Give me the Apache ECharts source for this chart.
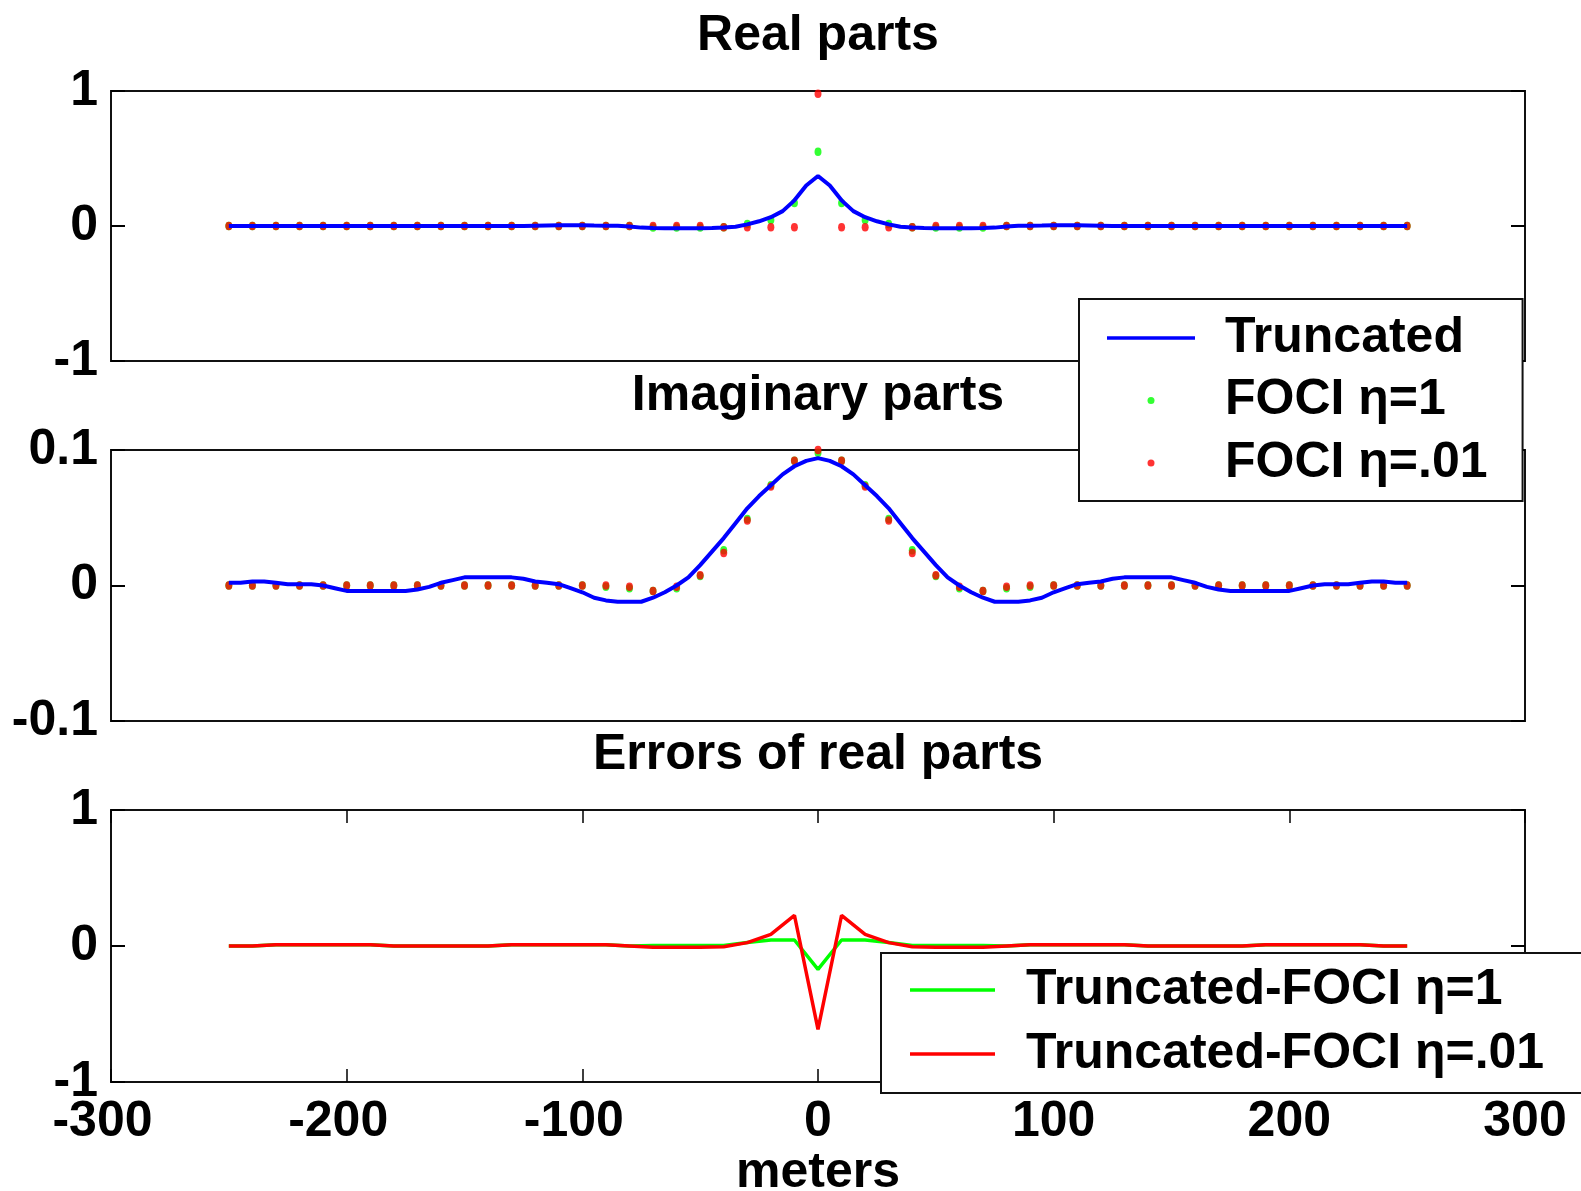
<!DOCTYPE html>
<html>
<head>
<meta charset="utf-8">
<script src="https://cdn.jsdelivr.net/npm/echarts/dist/echarts.min.js"></script>
<style>
  html, body { margin: 0; padding: 0; background: #fff; }
  #chart { width: 1581px; height: 1191px; }
</style>
</head>
<body>
<div id="chart"></div>
<script>
// Sample positions (meters)
const xDots = [-250,-240,-230,-220,-210,-200,-190,-180,-170,-160,-150,-140,-130,-120,-110,-100,-90,-80,-70,-60,-50,-40,-30,-20,-10,
  0,10,20,30,40,50,60,70,80,90,100,110,120,130,140,150,160,170,180,190,200,210,220,230,240,250];
const xLine = [-250,-245,-240,-235,-230,-225,-220,-215,-210,-205,-200,-195,-190,-185,-180,-175,-170,-165,-160,-155,
  -150,-145,-140,-135,-130,-125,-120,-115,-110,-105,-100,-95,-90,-85,-80,-75,-70,-65,-60,-55,
  -50,-45,-40,-35,-30,-25,-20,-15,-10,-5,0,5,10,15,20,25,30,35,40,45,50,55,60,65,70,75,80,85,90,95,
  100,105,110,115,120,125,130,135,140,145,150,155,160,165,170,175,180,185,190,195,200,205,210,215,220,225,230,235,240,245,250];

// Real parts
const truncReal = [
  0,0,0,0,0,0,0,0,0,0,
  0,0,0,0,0,0,0,0,0,0,
  0,0,0,0,0,0,
  0.002,0.004,0.006,0.006,0.005,0.003,0.002,0.001,-0.004,-0.012,
  -0.015,-0.016,-0.016,-0.016,-0.016,-0.015,-0.012,-0.006,0.012,0.035,
  0.065,0.11,0.19,0.30,0.37,
  0.30,0.19,0.11,0.065,
  0.035,0.012,-0.006,-0.012,-0.015,-0.016,-0.016,-0.016,-0.016,-0.015,
  -0.012,-0.004,0.001,0.002,0.003,0.005,0.006,0.006,0.004,0.002,
  0,0,0,0,0,0,
  0,0,0,0,0,0,0,0,0,0,
  0,0,0,0,0,0,0,0,0,0
];
const fociRealEta1 = [
  0,0,0,0,0,0,0,0,0,0,0,0,0,0,0,0,0,0,
  -0.012,-0.012,-0.012,-0.01,0.015,0.044,0.17,0.55,0.17,0.044,0.015,-0.01,-0.012,-0.012,-0.012,
  0,0,0,0,0,0,0,0,0,0,0,0,0,0,0,0,0,0
];
const fociRealEta01 = [
  0,0,0,0,0,0,0,0,0,0,0,0,0,0,0,0,0,0,0,0,0,
  -0.01,-0.01,-0.01,-0.01,0.98,-0.01,-0.01,-0.01,-0.01,
  0,0,0,0,0,0,0,0,0,0,0,0,0,0,0,0,0,0,0,0,0
];

// Imaginary parts
const truncImag = [
  0.002,0.002,0.003,0.003,0.002,0.001,0.001,0.001,0.000,-0.002,
  -0.004,-0.004,-0.004,-0.004,-0.004,-0.004,-0.003,-0.001,0.002,0.004,
  0.006,0.006,0.006,0.006,0.006,0.005,0.003,0.002,0.001,-0.002,
  -0.005,-0.009,-0.011,-0.012,-0.012,-0.012,-0.009,-0.005,0.000,0.006,
  0.015,0.025,0.035,0.046,0.057,0.066,0.074,0.082,0.088,0.092,
  0.094,
  0.092,0.088,0.082,0.074,0.066,0.057,0.046,0.035,0.025,0.015,
  0.006,0.000,-0.005,-0.009,-0.012,-0.012,-0.012,-0.011,-0.009,-0.005,
  -0.002,0.001,0.002,0.003,0.005,0.006,0.006,0.006,0.006,0.006,
  0.004,0.002,-0.001,-0.003,-0.004,-0.004,-0.004,-0.004,-0.004,-0.004,
  -0.002,0.000,0.001,0.001,0.001,0.002,0.003,0.003,0.002,0.002
];
const fociImagEta1 = [
  0,0,0,0,0,0,0,0,0,0,0,0,0,0,0,0,
  -0.001,-0.002,-0.004,-0.002,0.007,0.026,0.049,0.074,0.092,0.098,0.092,0.074,0.049,0.026,0.007,-0.002,-0.004,-0.002,-0.001,
  0,0,0,0,0,0,0,0,0,0,0,0,0,0,0,0
];
const fociImagEta01 = [
  0,0,0,0,0,0,0,0,0,0,0,0,0,0,0,0,0,
  -0.001,-0.004,-0.001,0.0075,0.024,0.048,0.073,0.092,0.1,0.092,0.073,0.048,0.024,0.0075,-0.001,-0.004,-0.001,
  0,0,0,0,0,0,0,0,0,0,0,0,0,0,0,0,0
];

// Errors of real parts
const errEta1 = [
  0,0,0.01,0.01,0.01,0.01,0.01,0,0,0,
  0,0,0.01,0.01,0.01,0.01,0.01,0,0.003,0.004,
  0.004,0.004,0.025,0.044,0.044,
  -0.172,
  0.044,0.044,0.025,0.004,0.004,
  0.004,0.003,0,0.01,0.01,0.01,0.01,0.01,0,0,
  0,0,0,0.01,0.01,0.01,0.01,0.01,0,0
];
const errEta01 = [
  0,0,0.01,0.01,0.01,0.01,0.01,0,0,0,
  0,0,0.01,0.01,0.01,0.01,0.01,0,-0.01,-0.01,
  -0.01,-0.005,0.025,0.086,0.226,
  -0.613,
  0.226,0.086,0.025,-0.005,-0.01,
  -0.01,-0.01,0,0.01,0.01,0.01,0.01,0.01,0,0,
  0,0,0,0.01,0.01,0.01,0.01,0.01,0,0
];

const xTicks = [-300, -200, -100, 0, 100, 200, 300];

const pairs = (xs, ys) => xs.map((x, i) => [x, ys[i]]);

const FONT = "'Liberation Sans', Arial, Helvetica, sans-serif";
const txt = { fontFamily: FONT, fontWeight: 'bold', fontSize: 50, color: '#000', lineHeight: 50 };
const BLUE = '#0000ff', GREEN = '#00ff00', RED = '#ff0000';
const DOT = [7, 8.5];
// thin bar used as the legend key for line series
const LINE_KEY = 'path://M0 0H88V3.5H0Z';

const gridBase = { left: 111, right: 56, show: true, borderColor: '#111', borderWidth: 2,
  backgroundColor: '#fff', containLabel: false, outerBoundsMode: 'none' };

function hiddenX(gridIndex) {
  return { type: 'value', gridIndex, min: xTicks[0], max: xTicks[xTicks.length - 1], interval: 100,
    axisLine: { show: false, onZero: false }, axisTick: { show: false }, axisLabel: { show: false },
    splitLine: { show: false } };
}
function yPair(gridIndex, min, max, interval) {
  const common = { type: 'value', gridIndex, min, max, interval,
    axisLine: { show: false, onZero: false }, splitLine: { show: false },
    axisTick: { show: true, inside: true, length: 14, lineStyle: { color: '#000', width: 2 } } };
  return [
    Object.assign({ position: 'left', axisLabel: Object.assign({ margin: 13, padding: [8, 0, 0, 0] }, txt) }, common),
    Object.assign({ position: 'right', axisLabel: { show: false } }, common)
  ];
}
// negative tick labels keep their digits centred on the tick; the sign hangs to the left
function xLabel(v) {
  return v < 0 ? '{neg|' + v + '}' : '{pos|' + v + '}';
}

const option = {
  animation: false,
  backgroundColor: '#fff',
  title: [
    { text: 'Real parts', left: 818, top: 11, textAlign: 'center', padding: 0, textStyle: txt },
    { text: 'Imaginary parts', left: 818, top: 371, textAlign: 'center', padding: 0, textStyle: txt },
    { text: 'Errors of real parts', left: 818, top: 730, textAlign: 'center', padding: 0, textStyle: txt }
  ],
  grid: [
    Object.assign({ top: 91, height: 270 }, gridBase),
    Object.assign({ top: 450, height: 271 }, gridBase),
    Object.assign({ top: 810, height: 272 }, gridBase)
  ],
  xAxis: [
    hiddenX(0),
    hiddenX(1),
    { type: 'value', gridIndex: 2, position: 'bottom', min: xTicks[0], max: xTicks[xTicks.length - 1], interval: 100,
      axisLine: { show: false, onZero: false }, splitLine: { show: false },
      axisTick: { show: true, inside: true, length: 13, lineStyle: { color: '#000', width: 1.5 } },
      axisLabel: Object.assign({ margin: 15, formatter: xLabel,
        rich: { neg: Object.assign({ padding: [0, 17, 0, 0] }, txt), pos: Object.assign({}, txt) } }, txt),
      name: 'meters', nameLocation: 'middle', nameGap: 63, nameTextStyle: txt },
    { type: 'value', gridIndex: 2, position: 'top', min: xTicks[0], max: xTicks[xTicks.length - 1], interval: 100,
      axisLine: { show: false, onZero: false }, splitLine: { show: false }, axisLabel: { show: false },
      axisTick: { show: true, inside: true, length: 13, lineStyle: { color: '#000', width: 1.5 } } }
  ],
  yAxis: [
    ...yPair(0, -1, 1, 1),
    ...yPair(1, -0.1, 0.1, 0.1),
    ...yPair(2, -1, 1, 1)
  ],
  legend: [
    { data: [{ name: 'Truncated', icon: LINE_KEY }, { name: 'FOCI η=1', icon: 'circle' }, { name: 'FOCI η=.01', icon: 'circle' }],
      orient: 'vertical', left: 1079, top: 299, itemWidth: 88, itemHeight: 7, itemGap: 6.5,
      padding: [11, 35, 10, 28], borderColor: '#111', borderWidth: 2, backgroundColor: '#fff',
      selectedMode: false, z: 10, textStyle: Object.assign({ padding: [6, 0, 0, 25] }, txt) },
    { data: [{ name: 'Truncated-FOCI η=1', icon: LINE_KEY }, { name: 'Truncated-FOCI η=.01', icon: LINE_KEY }],
      orient: 'vertical', left: 881, top: 953, itemWidth: 85, itemHeight: 7, itemGap: 8,
      padding: [9, 60, 11, 29], borderColor: '#111', borderWidth: 2, backgroundColor: '#fff',
      selectedMode: false, z: 10, textStyle: Object.assign({ padding: [6, 0, 0, 26] }, txt) }
  ],
  series: [
    { type: 'line', name: 'Truncated', xAxisIndex: 0, yAxisIndex: 0, data: pairs(xLine, truncReal),
      symbol: 'none', lineStyle: { color: BLUE, width: 4 }, itemStyle: { color: BLUE } },
    { type: 'scatter', name: 'FOCI η=1', xAxisIndex: 0, yAxisIndex: 0, data: pairs(xDots, fociRealEta1),
      symbol: 'circle', symbolSize: DOT, itemStyle: { color: GREEN } },
    { type: 'scatter', name: 'FOCI η=.01', xAxisIndex: 0, yAxisIndex: 0, data: pairs(xDots, fociRealEta01),
      symbol: 'circle', symbolSize: DOT, itemStyle: { color: RED } },

    { type: 'line', name: 'Truncated', xAxisIndex: 1, yAxisIndex: 2, data: pairs(xLine, truncImag),
      symbol: 'none', lineStyle: { color: BLUE, width: 4 }, itemStyle: { color: BLUE } },
    { type: 'scatter', name: 'FOCI η=1', xAxisIndex: 1, yAxisIndex: 2, data: pairs(xDots, fociImagEta1),
      symbol: 'circle', symbolSize: DOT, itemStyle: { color: GREEN } },
    { type: 'scatter', name: 'FOCI η=.01', xAxisIndex: 1, yAxisIndex: 2, data: pairs(xDots, fociImagEta01),
      symbol: 'circle', symbolSize: DOT, itemStyle: { color: RED } },

    { type: 'line', name: 'Truncated-FOCI η=1', xAxisIndex: 2, yAxisIndex: 4, data: pairs(xDots, errEta1),
      symbol: 'none', lineStyle: { color: GREEN, width: 3.5 }, itemStyle: { color: GREEN } },
    { type: 'line', name: 'Truncated-FOCI η=.01', xAxisIndex: 2, yAxisIndex: 4, data: pairs(xDots, errEta01),
      symbol: 'none', lineStyle: { color: RED, width: 3.5 }, itemStyle: { color: RED } }
  ]
};

const chart = echarts.init(document.getElementById('chart'), null, { renderer: 'canvas' });
chart.setOption(option);
</script>
</body>
</html>
